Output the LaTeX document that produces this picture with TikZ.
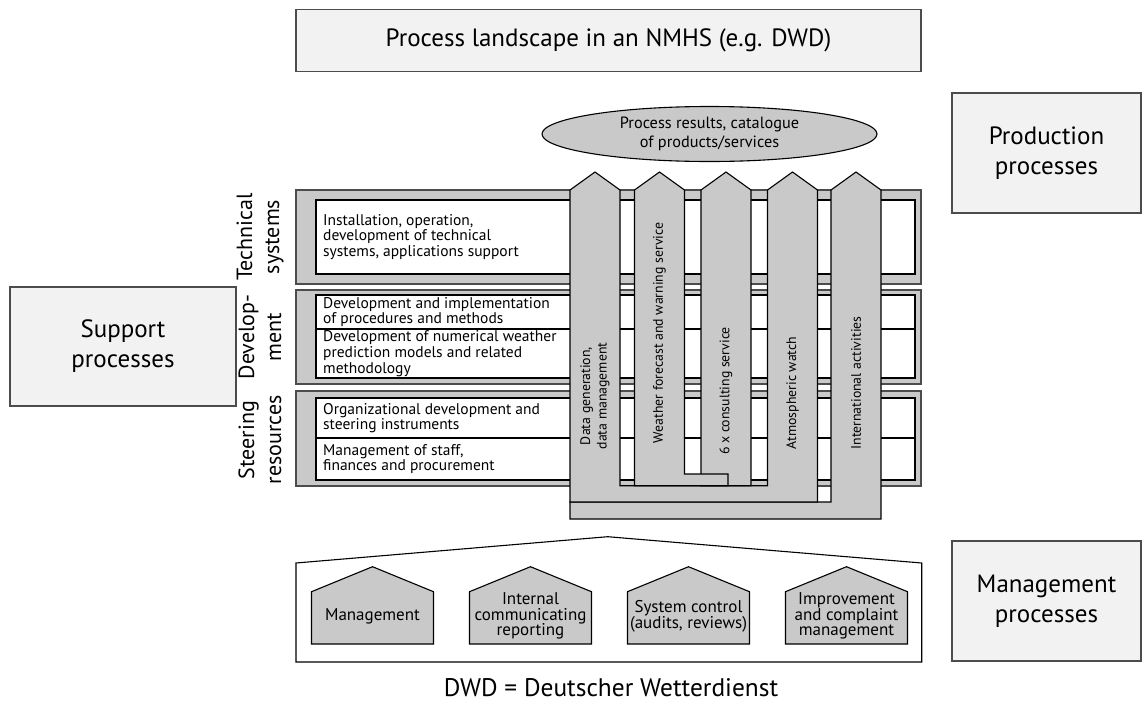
\documentclass[tikz,border=0pt]{standalone}
\usepackage{fontspec}
\setmainfont{PT Sans}
\usetikzlibrary{shapes.geometric}
\definecolor{lightbox}{gray}{0.95}
\definecolor{midgray}{gray}{0.79}
\definecolor{edgegray}{gray}{0.3}
\tikzset{
  procbox/.style={draw=edgegray,fill=lightbox,line width=1.3pt,align=center,font=\fontsize{25}{30}\selectfont},
  bandtext/.style={anchor=west,align=left,inner sep=0pt,font=\fontsize{15.5}{15.7}\selectfont},
  sidelabel/.style={rotate=90,align=center,inner sep=0pt,font=\fontsize{22}{27}\selectfont},
  arrowtext/.style={rotate=90,align=center,inner sep=0pt,font=\fontsize{13.8}{16.5}\selectfont},
  housetext/.style={align=center,inner sep=0pt,font=\fontsize{17}{15.7}\selectfont},
  grayshape/.style={fill=midgray,draw=black,line width=1.1pt,line join=miter},
}
\begin{document}
\begin{tikzpicture}[x=1pt,y=-1pt]
    \useasboundingbox (0,0) rectangle (1144,702);
    % boxes round the picture
    \node[procbox,minimum width=625,minimum height=62] (title) at (608.5,40.5) {Process landscape in an NMHS (e.g. DWD)};
    \node[procbox,minimum width=189,minimum height=120] (prod) at (1046.5,153) {Production\\processes};
    \node[procbox,minimum width=226,minimum height=119] (supp) at (123,346.5) {Support\\processes};
    \node[procbox,minimum width=189,minimum height=120] (mgmt) at (1046.5,601) {Management\\processes};

    % support bands
    \foreach \ot/\ob/\it/\ib in {190/284/200/274, 290/384/295/378, 391/486/398/480} {
        \filldraw[fill=midgray,draw=edgegray,line width=1.1pt] (296,\ot) rectangle (921,\ob);
        \filldraw[fill=white,draw=black,line width=1.1pt] (316,\it) rectangle (915,\ib);
    }
    \draw[line width=1.1pt] (316,329) -- (915,329);
    \draw[line width=1.1pt] (316,438) -- (915,438);

    \node[bandtext] (tech) at (323,237) {Installation, operation,\\development of technical\\systems, applications support};
    \node[bandtext] (dev1) at (323,312) {Development and implementation\\of procedures and methods};
    \node[bandtext] (dev2) at (323,353.5) {Development of numerical weather\\prediction models and related\\methodology};
    \node[bandtext] (steer1) at (323,418) {Organizational development and\\steering instruments};
    \node[bandtext] (steer2) at (323,459) {Management of staff,\\finances and procurement};

    \node[sidelabel] (labtech) at (260,237) {Technical\\systems};
    \node[sidelabel] (labdev) at (260,337) {Develop-\\ment};
    \node[sidelabel] (labsteer) at (260,440) {Steering\\resources};

    % production arrows
    \filldraw[grayshape] (831,190) -- (856,172) -- (881,190) -- (881,519) -- (570,519) -- (570,502) -- (831,502) -- cycle;
    \filldraw[grayshape] (570,190) -- (595,172) -- (620,190) -- (620,485.7) -- (767.5,485.7) -- (767.5,190)
        -- (792.5,172) -- (817.5,190) -- (817.5,502) -- (570,502) -- cycle;
    \filldraw[grayshape] (701,190) -- (726,172) -- (751,190) -- (751,485.7) -- (701,485.7) -- cycle;
    \filldraw[grayshape] (634.5,190) -- (659.5,172) -- (684.5,190) -- (684.5,474) -- (728,474) -- (728,485.7)
        -- (634.5,485.7) -- cycle;

    \node[arrowtext] (data) at (595,396) {Data generation,\\data management};
    \node[arrowtext] (weather) at (659.5,333) {Weather forecast and warning service};
    \node[arrowtext] (consult) at (726,391) {6 x consulting service};
    \node[arrowtext] (atmo) at (792.5,393) {Atmospheric watch};
    \node[arrowtext] (intl) at (856,383) {International activities};

    \node[ellipse,draw=black,fill=midgray,line width=1.1pt,inner sep=0pt,minimum width=335,minimum height=55,
        align=center,font=\fontsize{16.3}{18.5}\selectfont] (results) at (709.5,134) {Process results, catalogue\\of products/services};

    % management processes
    \draw[line width=1.1pt] (296,563) -- (607.7,536.7) -- (921.7,563) -- (921.7,662) -- (296,662) -- cycle;
    \foreach \cx/\txt [count=\i] in {372.5/Management, 530.5/{Internal\\communicating\\reporting},
        688.5/{System control\\(audits, reviews)}, 846.5/{Improvement\\and complaint\\management}} {
        \filldraw[grayshape] (\cx-61,644) -- (\cx-61,591.7) -- (\cx,566.7) -- (\cx+61,591.7) -- (\cx+61,644) -- cycle;
        \node[housetext] (house\i) at (\cx,616) {\txt};
    }

    \node[inner sep=0pt,font=\fontsize{25.4}{30}\selectfont] (dwd) at (611,688) {DWD = Deutscher Wetterdienst};
\end{tikzpicture}
\end{document}
